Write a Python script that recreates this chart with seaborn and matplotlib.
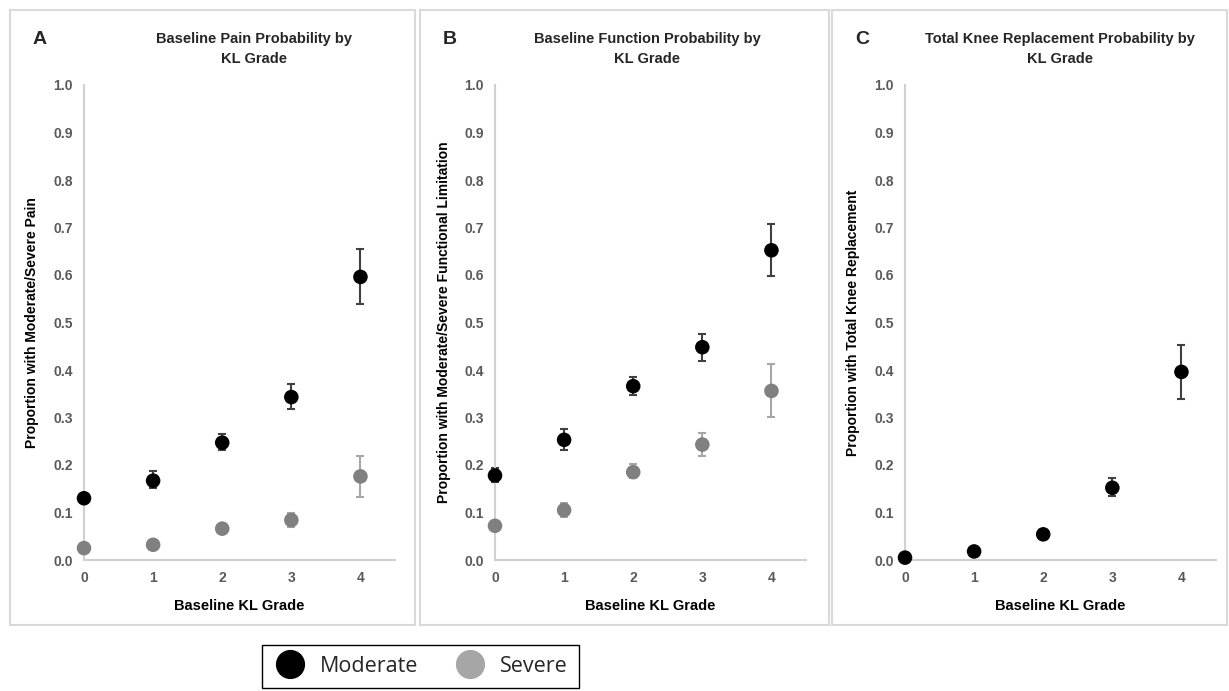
import numpy as np
import pandas as pd
import seaborn as sns
import matplotlib.pyplot as plt
from matplotlib.lines import Line2D
from matplotlib.patches import Rectangle

sns.set_theme(style="white")
plt.rcParams['font.family'] = ['Liberation Sans', 'DejaVu Sans']

grades = [0, 1, 2, 3, 4]

pain_mod = [0.130, 0.167, 0.247, 0.343, 0.596]
pain_mod_lo = [0.130, 0.152, 0.232, 0.318, 0.540]
pain_mod_hi = [0.130, 0.187, 0.265, 0.370, 0.655]
pain_sev = [0.025, 0.032, 0.066, 0.084, 0.176]
pain_sev_lo = [0.025, 0.032, 0.066, 0.070, 0.132]
pain_sev_hi = [0.025, 0.032, 0.066, 0.100, 0.220]

func_mod = [0.178, 0.253, 0.366, 0.448, 0.652]
func_mod_lo = [0.165, 0.232, 0.348, 0.420, 0.598]
func_mod_hi = [0.193, 0.275, 0.385, 0.476, 0.708]
func_sev = [0.072, 0.105, 0.185, 0.243, 0.356]
func_sev_lo = [0.072, 0.090, 0.172, 0.220, 0.302]
func_sev_hi = [0.072, 0.120, 0.202, 0.267, 0.413]

tkr_mod = [0.005, 0.018, 0.054, 0.152, 0.396]
tkr_mod_lo = [0.005, 0.018, 0.048, 0.135, 0.340]
tkr_mod_hi = [0.005, 0.018, 0.062, 0.173, 0.453]

panels = [
    dict(letter="A", title="Baseline Pain Probability by\nKL Grade",
         ylabel="Proportion with Moderate/Severe Pain",
         series=[(pain_mod, pain_mod_lo, pain_mod_hi, "Moderate"),
                 (pain_sev, pain_sev_lo, pain_sev_hi, "Severe")]),
    dict(letter="B", title="Baseline Function Probability by\nKL Grade",
         ylabel="Proportion with Moderate/Severe Functional Limitation",
         series=[(func_mod, func_mod_lo, func_mod_hi, "Moderate"),
                 (func_sev, func_sev_lo, func_sev_hi, "Severe")]),
    dict(letter="C", title="Total Knee Replacement Probability by\nKL Grade",
         ylabel="Proportion with Total Knee Replacement",
         series=[(tkr_mod, tkr_mod_lo, tkr_mod_hi, "Moderate")]),
]

pt_color = {"Moderate": "#000000", "Severe": "#808080"}
err_color = {"Moderate": "#404040", "Severe": "#a6a6a6"}

fig = plt.figure(figsize=(12.29, 6.91), dpi=100)
W, H = 1229, 691

frames = [(10, 10, 415, 625), (420, 10, 829, 625), (832, 10, 1227, 625)]
for (x0, y0, x1, y1) in frames:
    fig.patches.append(Rectangle((x0 / W, 1 - y1 / H), (x1 - x0) / W, (y1 - y0) / H,
                                 transform=fig.transFigure, fill=False,
                                 edgecolor="#d9d9d9", linewidth=1.5, zorder=0))

lefts = [84, 495, 905]
title_x = [254, 647, 1060]
for p, lx, fr, tx in zip(panels, lefts, frames, title_x):
    ax = fig.add_axes([lx / W, 1 - 560 / H, 311 / W, 475 / H])
    for vals, lo, hi, name in p["series"]:
        df = pd.DataFrame({"grade": grades, "p": vals})
        yerr = [np.array(vals) - np.array(lo), np.array(hi) - np.array(vals)]
        ax.errorbar(grades, vals, yerr=yerr, fmt="none", ecolor=err_color[name],
                    elinewidth=1.5, capsize=3, capthick=1.5, zorder=2, clip_on=False)
        sns.scatterplot(data=df, x="grade", y="p", ax=ax, color=pt_color[name],
                        s=110, edgecolor="none", zorder=3, clip_on=False, legend=False)
    ax.set_xlim(0, 4.5)
    ax.set_ylim(0, 1.0)
    ax.set_xticks(grades)
    ax.set_yticks(np.arange(0, 1.01, 0.1))
    ax.set_yticklabels([f"{v:.1f}" for v in np.arange(0, 1.01, 0.1)])
    for lab in ax.get_xticklabels() + ax.get_yticklabels():
        lab.set_fontweight("bold")
        lab.set_color("#595959")
        lab.set_fontsize(10)
    ax.tick_params(axis="both", length=0, pad=8)
    sns.despine(ax=ax)
    for s in ["left", "bottom"]:
        ax.spines[s].set_color("#d0d0d0")
        ax.spines[s].set_linewidth(1.5)
    ax.set_xlabel("Baseline KL Grade", fontsize=10.5, fontweight="bold", color="black", labelpad=10)
    ax.set_ylabel(p["ylabel"], fontsize=10, fontweight="bold", color="black", labelpad=10)
    fig.text(tx / W, 1 - 49 / H, p["title"], fontsize=10.5, fontweight="bold",
             ha="center", va="center", linespacing=1.55)
    fig.text((fr[0] + 30) / W, 1 - 40 / H, p["letter"], fontsize=14, fontweight="bold",
             ha="center", va="center")

handles = [Line2D([], [], marker="o", linestyle="none", color="black", markersize=20),
           Line2D([], [], marker="o", linestyle="none", color="#a6a6a6", markersize=20)]
leg = fig.legend(handles, ["Moderate", "Severe"], loc="upper left",
                 bbox_to_anchor=(262 / W, 1 - 645 / H), borderaxespad=0, ncol=2, frameon=True,
                 fancybox=False, framealpha=1, edgecolor="black",
                 prop={"family": "Open Sans", "size": 15.5}, handletextpad=0.6,
                 columnspacing=1.6, borderpad=0.5, handlelength=1.6)
leg.get_frame().set_linewidth(1.0)

fig.savefig("out.png", dpi=100)
